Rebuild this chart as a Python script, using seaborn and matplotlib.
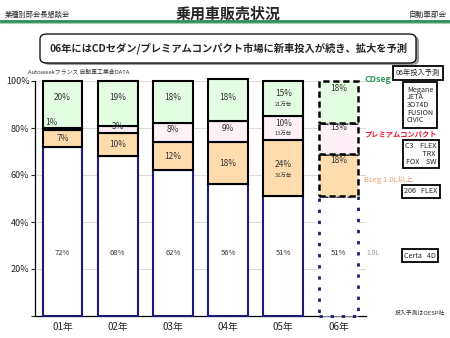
import matplotlib
matplotlib.use("Agg")
import matplotlib.pyplot as plt
import matplotlib.transforms as mtransforms
from matplotlib.patches import FancyBboxPatch
from matplotlib.lines import Line2D
import seaborn as sns
import pandas as pd
import numpy as np

# ---------------- data ----------------
years = ["01年", "02年", "03年", "04年", "05年", "06年"]
seg_10l = [72, 68, 62, 56, 51, 51]
seg_bseg = [7, 10, 12, 18, 24, 18]
seg_premium = [1, 3, 8, 9, 10, 13]
seg_cdseg = [20, 19, 18, 18, 15, 18]
units_bseg = ["", "", "", "", "32万台", ""]
units_premium = ["", "", "", "", "13万台", ""]
units_cdseg = ["", "", "", "", "21万台", ""]
forecast_year = "06年"
y_ticks = [0, 20, 40, 60, 80, 100]
y_ticklabels = ["", "20%", "40%", "60%", "80%", "100%"]
seg_names = ["1.0L", "Bseg 1.0L以上", "プレミアムコンパクト", "CDseg"]
models_cd = "Megane\nJETA\n3O74D\nFUSION\nCIVIC"
models_premium = "C3    FLEX\n          TRX\nFOX    SW"
models_bseg = "206   FLEX"
models_10l = "Certa   4D"

sns.set_style("white")
plt.rcParams['font.family'] = ['Noto Sans CJK JP', 'DejaVu Sans']

W, H = 450, 338
fig = plt.figure(figsize=(4.5, 3.38), dpi=100)
fig.patch.set_facecolor("white")


def fx(px):
    return px / W


def fy(py):
    return 1 - py / H


# ---------------- header ----------------
fig.text(fx(5), fy(15), "業種別部会長懇談会", fontsize=5.2, va="center", ha="left")
fig.text(fx(228), fy(14), "乗用車販売状況", fontsize=10.8, fontweight="bold",
         va="center", ha="center")
fig.text(fx(447), fy(15), "自動車部会", fontsize=5.5, va="center", ha="right")
fig.add_artist(Line2D([0, 1], [fy(20.5), fy(20.5)], color="#2e8b57", lw=2.0))
fig.add_artist(Line2D([0, 1], [fy(22.5), fy(22.5)], color="#9fcfb0", lw=0.8))

# subtitle box with shadow
shadow = FancyBboxPatch((fx(43), fy(65)), fx(416) - fx(40), fy(34) - fy(63),
                        boxstyle="round,pad=0,rounding_size=0.015",
                        transform=fig.transFigure, facecolor="#9a9a9a",
                        edgecolor="none", zorder=1)
fig.add_artist(shadow)
box = FancyBboxPatch((fx(40), fy(63)), fx(416) - fx(40), fy(34) - fy(63),
                     boxstyle="round,pad=0,rounding_size=0.015",
                     transform=fig.transFigure, facecolor="white",
                     edgecolor="black", lw=0.9, zorder=2)
fig.add_artist(box)
fig.text(fx(228), fy(48.5), "06年にはCDセダン/プレミアムコンパクト市場に新車投入が続き、拡大を予測",
         fontsize=7.4, fontweight="bold", ha="center", va="center", zorder=3)

# ---------------- chart ----------------
ax = fig.add_axes([fx(35), fy(316), fx(366) - fx(35), fy(81) - fy(316)])

df = pd.DataFrame({"year": years, "L10": seg_10l, "B": seg_bseg,
                   "P": seg_premium, "CD": seg_cdseg})
layers = [("L10", "white", "#1c1c78"),
          ("B", "#ffdcae", "black"),
          ("P", "#fff0f8", "black"),
          ("CD", "#e3fde3", "black")]

bottom = np.zeros(len(years))
bottoms = {}
for name, fc, ec in layers:
    n0 = len(ax.patches)
    sns.barplot(data=df, x="year", y=name, order=years, color=fc,
                bottom=bottom.copy(), width=0.72, edgecolor=ec, linewidth=1.5,
                saturation=1, ax=ax, clip_on=False, zorder=3)
    for p, yr in zip(ax.patches[n0:], years):
        if yr == forecast_year:
            if name == "L10":
                p.set_linestyle((0, (1.2, 2.8)))
                p.set_linewidth(2.0)
            else:
                p.set_linestyle((0, (2.5, 1.5)))
                p.set_linewidth(1.8)
    bottoms[name] = bottom.copy()
    bottom = bottom + df[name].values

ax.set_ylim(0, 100)
ax.set_xlim(-0.5, 5.5)
ax.set_yticks(y_ticks)
ax.set_yticklabels(y_ticklabels, fontsize=6.5)
ax.set_xlabel("")
ax.set_ylabel("")
ax.tick_params(axis="x", labelsize=7, length=0, pad=4)
ax.tick_params(axis="y", length=3, width=0.8, direction="out", pad=1, left=True)
for s in ["top", "right"]:
    ax.spines[s].set_visible(False)
for s in ["left", "bottom"]:
    ax.spines[s].set_color("black")
    ax.spines[s].set_linewidth(0.9)
for yv in y_ticks[1:]:
    ax.axhline(yv, color="#d9d9d9", lw=0.7, zorder=0)

txtc = "#333333"
for i, yr in enumerate(years):
    fc = yr == forecast_year
    # 1.0L
    ax.text(i, 27, f"{seg_10l[i]}%", ha="center", va="center", fontsize=5.5,
            color=txtc, zorder=5)
    # Bseg
    b0 = bottoms["B"][i]
    top = b0 + seg_bseg[i]
    yb = top - 3 if fc else b0 + seg_bseg[i] / 2
    if units_bseg[i]:
        ax.text(i, yb + 1.5, f"{seg_bseg[i]}%", ha="center", va="center", fontsize=6, color=txtc, zorder=5)
        ax.text(i, yb - 3, units_bseg[i], ha="center", va="center", fontsize=4, color=txtc, zorder=5)
    else:
        ax.text(i, yb, f"{seg_bseg[i]}%", ha="center", va="center", fontsize=6, color=txtc, zorder=5)
    # Premium
    p0 = bottoms["P"][i]
    top = p0 + seg_premium[i]
    if seg_premium[i] < 2:
        ax.text(i - 0.2, top + 2.5, f"{seg_premium[i]}%", ha="center", va="center",
                fontsize=6, color=txtc, zorder=5)
    elif units_premium[i]:
        ax.text(i, top - 3, f"{seg_premium[i]}%", ha="center", va="center", fontsize=6, color=txtc, zorder=5)
        ax.text(i, top - 7.5, units_premium[i], ha="center", va="center", fontsize=4, color=txtc, zorder=5)
    else:
        yp = top - 2 if fc else p0 + seg_premium[i] / 2 + 1.3
        ax.text(i, yp, f"{seg_premium[i]}%", ha="center", va="center", fontsize=6, color=txtc, zorder=5)
    # CD
    c0 = bottoms["CD"][i]
    top = c0 + seg_cdseg[i]
    yc = 97 if fc else 93
    if units_cdseg[i]:
        ax.text(i, 94.5, f"{seg_cdseg[i]}%", ha="center", va="center", fontsize=6, color=txtc, zorder=5)
        ax.text(i, 90, units_cdseg[i], ha="center", va="center", fontsize=4, color=txtc, zorder=5)
    else:
        ax.text(i, yc, f"{seg_cdseg[i]}%", ha="center", va="center", fontsize=6, color=txtc, zorder=5)

# segment names on right
blend = mtransforms.blended_transform_factory(ax.transAxes, ax.transData)
ax.text(0.995, 100.5, seg_names[3], transform=blend, fontsize=6.3, color="#2f9a5f",
        fontweight="bold", ha="left", va="center", clip_on=False)
ax.text(0.995, 77.5, seg_names[2], transform=blend, fontsize=5.2, color="#ee1133",
        fontweight="bold", ha="left", va="center", clip_on=False)
ax.text(0.995, 58, seg_names[1], transform=blend, fontsize=5.5, color="#f09a70",
        ha="left", va="center", clip_on=False)
ax.text(1.0, 27, seg_names[0], transform=blend, fontsize=5, color="#999999",
        ha="left", va="center", clip_on=False)

# source note
ax.text(-0.02, 102.8, "Autoweekフランス 自動車工業会DATA", transform=blend, fontsize=4.2,
        color="#333333", ha="left", va="bottom", clip_on=False)

# right-hand boxes
bbox_kw = dict(boxstyle="square,pad=0.35", facecolor="white", edgecolor="black", lw=1.3)
fig.text(fx(418), fy(73), "06年投入予測", fontsize=5.2, ha="center", va="center", bbox=bbox_kw)
fig.text(fx(407), fy(105), models_cd, fontsize=5.2, ha="left", va="center",
         linespacing=0.95, bbox=dict(boxstyle="square,pad=0.5", facecolor="white",
                                     edgecolor="black", lw=1.3))
fig.text(fx(421), fy(154), models_premium, fontsize=5.2, ha="center", va="center",
         linespacing=0.95, bbox=bbox_kw)
fig.text(fx(421), fy(191.5), models_bseg, fontsize=5.2, ha="center", va="center", bbox=bbox_kw)
fig.text(fx(420), fy(255.5), models_10l, fontsize=5.2, ha="center", va="center", bbox=bbox_kw)
fig.text(fx(420), fy(313), "投入予測はOESP社", fontsize=4.2, ha="center", va="center",
         color="#333333")

fig.savefig("out.png", dpi=100)
